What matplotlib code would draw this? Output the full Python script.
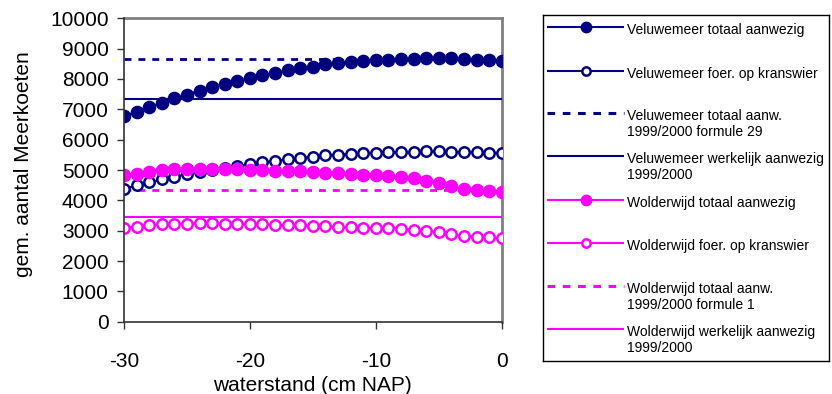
import matplotlib
matplotlib.use("Agg")
import matplotlib.pyplot as plt

plt.rcParams['font.family'] = ['Liberation Sans', 'DejaVu Sans']
plt.rcParams['axes.unicode_minus'] = False

# waterstand (cm NAP)
waterstand = list(range(-30, 1))

vel_totaal = [6780, 6910, 7080, 7210, 7360, 7480, 7620, 7740, 7830, 7930,
              8030, 8120, 8200, 8290, 8350, 8410, 8480, 8530, 8560, 8590,
              8610, 8640, 8660, 8670, 8680, 8690, 8680, 8660, 8640, 8620, 8600]
vel_foer = [4380, 4490, 4590, 4690, 4780, 4860, 4930, 5010, 5070, 5130,
            5190, 5250, 5300, 5350, 5400, 5440, 5480, 5510, 5530, 5560,
            5570, 5580, 5590, 5600, 5610, 5610, 5600, 5590, 5580, 5570, 5560]
wol_totaal = [4820, 4880, 4950, 4990, 5020, 5030, 5040, 5040, 5040, 5020,
              5010, 4990, 4980, 4970, 4955, 4930, 4910, 4890, 4860, 4840,
              4820, 4800, 4780, 4740, 4650, 4580, 4470, 4380, 4330, 4300, 4275]
wol_foer = [3080, 3130, 3175, 3205, 3220, 3235, 3240, 3245, 3235, 3225,
            3220, 3210, 3190, 3180, 3175, 3160, 3140, 3130, 3105, 3100,
            3095, 3080, 3065, 3030, 3000, 2950, 2880, 2830, 2800, 2780, 2760]

vel_formule = 8650
vel_werkelijk = 7350
wol_formule = 4330
wol_werkelijk = 3440

y_ticks = list(range(0, 10001, 1000))
x_ticks = [-30, -20, -10, 0]

labels = ['Veluwemeer totaal aanwezig',
          'Veluwemeer foer. op kranswier',
          'Veluwemeer totaal aanw.\n1999/2000 formule 29',
          'Veluwemeer werkelijk aanwezig\n1999/2000',
          'Wolderwijd totaal aanwezig',
          'Wolderwijd foer. op kranswier',
          'Wolderwijd totaal aanw.\n1999/2000 formule 1',
          'Wolderwijd werkelijk aanwezig\n1999/2000']

navy = '#000080'
magenta = '#FF00FF'

W, H = 832, 394
fig = plt.figure(figsize=(W / 100, H / 100), dpi=100)
ax = fig.add_axes([124 / W, (H - 321.7) / H, 377.7 / W, 303.4 / H])

x0, x1 = waterstand[0], waterstand[-1]
dash = (0, (2.5, 2.5))

# horizontale referentielijnen (onder de markers)
ax.plot([x0, x1], [vel_formule, vel_formule], color=navy, lw=2, ls=dash, zorder=1)
ax.plot([x0, x1], [vel_werkelijk, vel_werkelijk], color=navy, lw=1.5, zorder=1)
ax.plot([x0, x1], [wol_formule, wol_formule], color=magenta, lw=2, ls=dash, zorder=1)
ax.plot([x0, x1], [wol_werkelijk, wol_werkelijk], color=magenta, lw=1.5, zorder=1)

# reeksen met markers
ax.plot(waterstand, vel_totaal, color=navy, lw=1.5, marker='o', ms=8.8,
        mfc=navy, mec=navy, zorder=3)
ax.plot(waterstand, vel_foer, color=navy, lw=1.5, marker='o', ms=7.5,
        mfc='white', mec=navy, mew=1.8, zorder=3)
ax.plot(waterstand, wol_totaal, color=magenta, lw=1.5, marker='o', ms=8.8,
        mfc=magenta, mec=magenta, zorder=3)
ax.plot(waterstand, wol_foer, color=magenta, lw=1.5, marker='o', ms=7.5,
        mfc='white', mec=magenta, mew=1.8, zorder=3)

ax.set_xlim(-30, 0)
ax.set_ylim(0, 10000)
ax.set_xticks(x_ticks)
ax.set_yticks(y_ticks)
ax.tick_params(axis='both', labelsize=15, direction='out', length=5, width=1, color='#333333')
ax.tick_params(axis='y', pad=6)
ax.tick_params(axis='x', pad=17)
for s in ['top', 'right']:
    ax.spines[s].set_color('#808080')
    ax.spines[s].set_linewidth(2)
    ax.spines[s].set_zorder(0.5)
for s in ['left', 'bottom']:
    ax.spines[s].set_color('#333333')
    ax.spines[s].set_linewidth(1.2)
    ax.spines[s].set_zorder(5)

ax.set_xlabel('waterstand (cm NAP)', fontsize=15)
ax.set_ylabel('gem. aantal Meerkoeten', fontsize=15)
ax.xaxis.set_label_coords(0.5, -0.178)
ax.yaxis.set_label_coords(-0.24, 0.52)

# legenda (handmatig opgebouwd)
lx0, lx1, ly0, ly1 = 543, 829, 15, 361
lax = fig.add_axes([lx0 / W, (H - ly1) / H, (lx1 - lx0) / W, (ly1 - ly0) / H])
lax.set_xlim(lx0, lx1)
lax.set_ylim(ly1, ly0)
lax.set_xticks([])
lax.set_yticks([])
for s in lax.spines.values():
    s.set_color('black')
    s.set_linewidth(1)

handle_y = [27, 71, 113, 156, 200, 243, 286, 329]
styles = [
    dict(color=navy, lw=1.5, marker='o', ms=7.5, mfc=navy, mec=navy),
    dict(color=navy, lw=1.5, marker='o', ms=6, mfc='white', mec=navy, mew=1.8),
    dict(color=navy, lw=2.2, ls=dash),
    dict(color=navy, lw=1.5),
    dict(color=magenta, lw=1.5, marker='o', ms=7.5, mfc=magenta, mec=magenta),
    dict(color=magenta, lw=1.5, marker='o', ms=6, mfc='white', mec=magenta, mew=1.8),
    dict(color=magenta, lw=2.2, ls=dash),
    dict(color=magenta, lw=1.5),
]
for hy, lab, st in zip(handle_y, labels, styles):
    st = dict(st)
    marker = st.pop('marker', None)
    ms = st.pop('ms', None)
    mfc = st.pop('mfc', None)
    mec = st.pop('mec', None)
    mew = st.pop('mew', 1)
    lax.plot([547, 624], [hy, hy], solid_capstyle='butt', **st)
    if marker:
        lax.plot([586], [hy], marker=marker, ms=ms, mfc=mfc, mec=mec, mew=mew, ls='none')
    lax.text(627, hy - 4.5, lab, fontsize=10, va='top', ha='left', linespacing=1.2)

fig.savefig('out.png', dpi=100)
